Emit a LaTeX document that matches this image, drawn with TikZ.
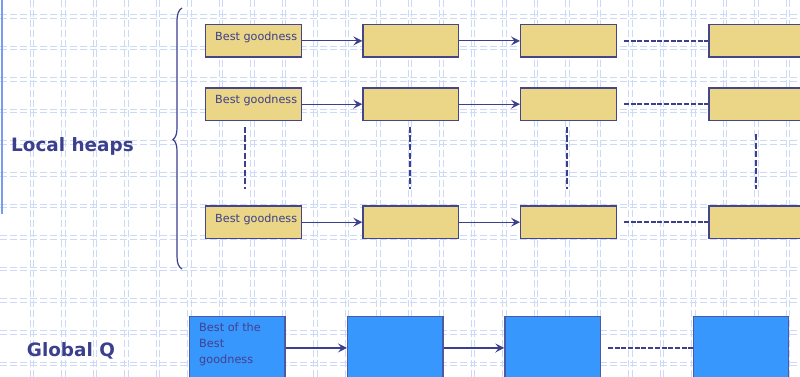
\documentclass[tikz,border=0pt]{standalone}
\usepackage{fontspec}
\setmainfont{DejaVu Sans}
\usetikzlibrary{arrows.meta,calc}
\definecolor{gridc}{HTML}{CCDAF8}
\definecolor{leftc}{HTML}{7C9AF0}
\definecolor{ykhaki}{HTML}{EAD686}
\definecolor{yborder}{HTML}{45468A}
\definecolor{bfill}{HTML}{3797FD}
\definecolor{bborder}{HTML}{4B5AA5}
\definecolor{navy}{HTML}{3B3F8C}
\definecolor{btext}{HTML}{46408C}
\tikzset{
  gridline/.style={draw=gridc, line width=0.9pt, dash pattern=on 7pt off 3pt},
  ybox/.style={draw=yborder, fill=ykhaki, line width=1.3pt, minimum width=95.5pt, minimum height=32.5pt, inner sep=0pt, anchor=north west},
  bbox/.style={draw=bborder, fill=bfill, line width=1.3pt, minimum width=95.3pt, minimum height=63.2pt, inner sep=0pt, anchor=north west},
  ylabel/.style={text=navy, font=\fontsize{11.2}{12}\selectfont, inner sep=0pt, anchor=base west},
  biglabel/.style={text=navy, font=\fontsize{18.4}{22}\selectfont\bfseries, inner sep=0pt, anchor=base west},
  arr/.style={draw=navy, line width=1.2pt, -{Stealth[length=9pt,width=9pt,inset=3.5pt]}},
  dashline/.style={draw=navy, line width=2pt, dash pattern=on 5pt off 1.7pt},
  vdash/.style={draw=navy, line width=2.4pt, dash pattern=on 6pt off 2.5pt},
}
\begin{document}
\begin{tikzpicture}[x=1pt,y=-1pt]
\useasboundingbox (0,0) rectangle (800,377);
\clip (0,0) rectangle (800,377);
\fill[white] (0,0) rectangle (800,377);
% background grid
\foreach \k in {0,...,24} {
  \draw[gridline] ({30+31.5*\k},0) -- ({30+31.5*\k},377);
  \draw[gridline] ({33.5+31.5*\k},0) -- ({33.5+31.5*\k},377);
}
\foreach \k in {0,...,11} {
  \draw[gridline] (0,{14.5+31.6*\k}) -- (800,{14.5+31.6*\k});
  \draw[gridline] (0,{18+31.6*\k}) -- (800,{18+31.6*\k});
}
\draw[leftc, line width=2pt] (1.5,0) -- (1.5,214);

% brace
\draw[navy, line width=1.2pt] (182,8) .. controls (178.5,10) and (177,14) .. (177,22) -- (177,128)
  .. controls (177,134) and (175.5,138) .. (173,139.5)
  .. controls (175.5,141) and (177,145) .. (177,151) -- (177,256)
  .. controls (177,263) and (178.5,267) .. (182,269);

% labels
\node[biglabel] (lh) at (11,151.7) {Local heaps};
\node[biglabel] (gq) at (26.7,356.7) {Global Q};

% yellow rows
\foreach \r/\t in {1/24, 2/87.3, 3/205.3} {
  \node[ybox] (y\r1) at (205,\t) {};
  \node[ybox] (y\r2) at (362.3,\t) {};
  \node[ybox] (y\r3) at (520,\t) {};
  \node[ybox] (y\r4) at (708.3,\t) {};
  \node[ylabel] (t\r) at (215,\t+16.7) {Best goodness};
  \draw[arr] (y\r1.east) -- (y\r2.west);
  \draw[arr] (y\r2.east) -- (y\r3.west);
  \coordinate (d\r) at ($(y\r3.east)+(7,0)$);
  \draw[dashline] (d\r) -- (y\r4.west);
}

% vertical dashed
\coordinate (v1a) at (245,127); \coordinate (v1b) at (245,189);
\coordinate (v2a) at (410,127); \coordinate (v2b) at (410,189);
\coordinate (v3a) at (567,127); \coordinate (v3b) at (567,189);
\coordinate (v4a) at (756,134); \coordinate (v4b) at (756,189);
\draw[vdash] (v1a) -- (v1b);
\draw[vdash] (v2a) -- (v2b);
\draw[vdash] (v3a) -- (v3b);
\draw[vdash] (v4a) -- (v4b);

% global Q
\node[bbox] (b1) at (189,315.7) {};
\node[bbox] (b2) at (347,315.7) {};
\node[bbox] (b3) at (504.3,315.7) {};
\node[bbox] (b4) at (692.7,315.7) {};
\node[text=btext, font=\fontsize{11.3}{16}\selectfont, inner sep=0pt, align=left, anchor=base west] (bt) at (199,363.5) {Best of the\\Best\\goodness};
\draw[arr] (b1.east) -- (b2.west);
\draw[arr] (b2.east) -- (b3.west);
\coordinate (bd) at ($(b3.east)+(7,0)$);
\draw[dashline] (bd) -- (b4.west);
\end{tikzpicture}
\end{document}
